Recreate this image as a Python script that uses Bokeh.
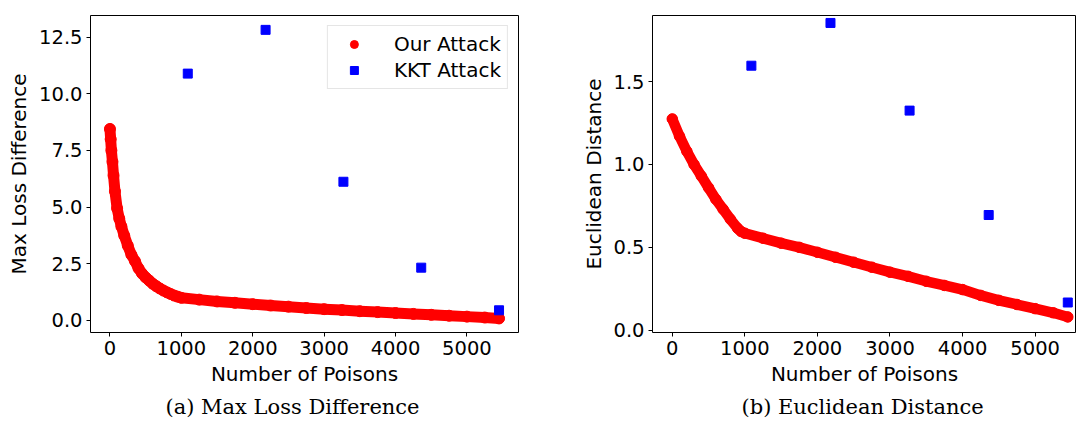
from bokeh.plotting import figure
from bokeh.models import (Range1d, FixedTicker, Legend, LegendItem,
                          NumeralTickFormatter, Title)
from bokeh.layouts import row
from bokeh.embed import file_html
from bokeh.resources import INLINE

# ---------------- data ----------------
x_ticks = [0, 1000, 2000, 3000, 4000, 5000]
left_y_ticks = [0, 2.5, 5, 7.5, 10, 12.5]
right_y_ticks = [0, 0.5, 1.0, 1.5]

kkt_x = [1090, 2180, 3270, 4360, 5450]
kkt_max_loss = [10.89, 12.82, 6.12, 2.33, 0.45]
kkt_euclid = [1.596, 1.854, 1.325, 0.695, 0.167]

ours_ml_x = [0, 10, 20, 35, 50, 70, 100, 130, 160, 200, 250, 300, 350, 400, 450,
             500, 550, 600, 650, 700, 750, 800, 850, 900, 950, 1000, 1250, 1500,
             1750, 2000, 2250, 2500, 2750, 3000, 3250, 3500, 3750, 4000, 4250,
             4500, 4750, 5000, 5250, 5450]
ours_max_loss = [8.45, 8.0, 7.5, 7.0, 6.4, 5.7, 4.95, 4.5, 4.15, 3.75, 3.3, 2.9,
                 2.62, 2.3, 2.07, 1.9, 1.76, 1.62, 1.51, 1.41, 1.32, 1.24, 1.17,
                 1.1, 1.05, 1.0, 0.92, 0.84, 0.78, 0.72, 0.66, 0.61, 0.55, 0.5,
                 0.46, 0.41, 0.37, 0.33, 0.29, 0.25, 0.21, 0.17, 0.13, 0.09]

ours_ed_x = [0, 100, 200, 300, 400, 500, 600, 700, 800, 900, 950, 1000, 1250,
             1500, 1750, 2000, 2250, 2500, 2750, 3000, 3250, 3500, 3750, 4000,
             4250, 4500, 4750, 5000, 5250, 5450]
ours_euclid = [1.275, 1.17, 1.08, 1.0, 0.93, 0.86, 0.79, 0.73, 0.67, 0.615,
               0.595, 0.585, 0.555, 0.525, 0.5, 0.47, 0.44, 0.41, 0.38, 0.35,
               0.325, 0.295, 0.27, 0.245, 0.21, 0.18, 0.155, 0.13, 0.105, 0.08]

captions = ["(a) Max Loss Difference", "(b) Euclidean Distance"]

RED = "#ff0000"
BLUE = "#0000ff"
FONT = "DejaVu Sans"
TICK_FS = "19.5px"
LABEL_FS = "20px"


def style_axis(ax, label, standoff):
    ax.axis_label = label
    ax.axis_label_text_font = FONT
    ax.axis_label_text_font_size = LABEL_FS
    ax.axis_label_text_font_style = "normal"
    ax.axis_label_text_color = "black"
    ax.axis_label_standoff = standoff
    ax.major_label_text_font = FONT
    ax.major_label_text_font_size = TICK_FS
    ax.major_label_text_color = "black"
    ax.major_tick_out = 4
    ax.major_tick_in = 0
    ax.major_tick_line_color = "black"
    ax.minor_tick_line_color = None
    ax.minor_tick_out = 0
    ax.minor_tick_in = 0
    ax.major_label_standoff = 4
    ax.axis_line_color = None


def base_fig(width, xr, yr, bl, br, bt):
    p = figure(width=width, height=423, x_range=xr, y_range=yr, title=None,
               output_backend="svg", toolbar_location=None,
               min_border_left=bl, min_border_right=br, min_border_top=bt,
               min_border_bottom=90)
    p.xgrid.grid_line_color = None
    p.ygrid.grid_line_color = None
    p.background_fill_color = "white"
    p.border_fill_color = "white"
    p.outline_line_color = "black"
    p.outline_line_width = 1
    return p


def add_caption(p, text, offset):
    t = Title(text=text, align="left", offset=offset, text_font="DejaVu Serif",
              text_font_size="21px", text_font_style="normal",
              text_color="black", standoff=9)
    p.add_layout(t, "below")


# ---------------- left panel ----------------
p1 = base_fig(560, Range1d(-272.5, 5722.5), Range1d(-0.53, 13.454), 90, 42, 15)
p1.xaxis.ticker = FixedTicker(ticks=x_ticks)
p1.yaxis.ticker = FixedTicker(ticks=left_y_ticks)
p1.yaxis.formatter = NumeralTickFormatter(format="0.0")
style_axis(p1.xaxis[0], "Number of Poisons", 4)
style_axis(p1.yaxis[0], "Max Loss Difference", 5)

p1.line(ours_ml_x, ours_max_loss, line_width=11, line_color=RED,
        line_cap="round", line_join="round")
r_our = p1.scatter(ours_ml_x, ours_max_loss, marker="circle", size=11,
                   fill_color=RED, line_color=RED)
r_kkt = p1.scatter(kkt_x, kkt_max_loss, marker="square", size=9,
                   fill_color=BLUE, line_color=BLUE)

legend = Legend(items=[LegendItem(label="Our Attack", renderers=[r_our]),
                       LegendItem(label="KKT Attack", renderers=[r_kkt])],
                location="top_right", margin=10, padding=6, spacing=2,
                glyph_width=40, glyph_height=20, label_height=20,
                label_standoff=20, label_text_font=FONT,
                label_text_font_size=LABEL_FS, label_text_color="black",
                border_line_color="#cccccc", border_line_width=1,
                background_fill_color="white", background_fill_alpha=0.8)
p1.add_layout(legend)
add_caption(p1, captions[0], 75)

# ---------------- right panel ----------------
# plots in the row share the top border (15 px); range set so the data scale
# matches the reference panel
p2 = base_fig(516, Range1d(-272.5, 5570), Range1d(-0.014, 1.899), 92, 0, 15)
p2.xaxis.ticker = FixedTicker(ticks=x_ticks)
p2.yaxis.ticker = FixedTicker(ticks=right_y_ticks)
p2.yaxis.formatter = NumeralTickFormatter(format="0.0")
style_axis(p2.xaxis[0], "Number of Poisons", 4)
style_axis(p2.yaxis[0], "Euclidean Distance", 4)

p2.line(ours_ed_x, ours_euclid, line_width=10.5, line_color=RED,
        line_cap="round", line_join="round")
p2.scatter(ours_ed_x, ours_euclid, marker="circle", size=10.5,
           fill_color=RED, line_color=RED)
p2.scatter(kkt_x, kkt_euclid, marker="square", size=9,
           fill_color=BLUE, line_color=BLUE)
add_caption(p2, captions[1], 89)

layout = row(p1, p2)
open("out.html", "w").write(file_html(layout, INLINE))
